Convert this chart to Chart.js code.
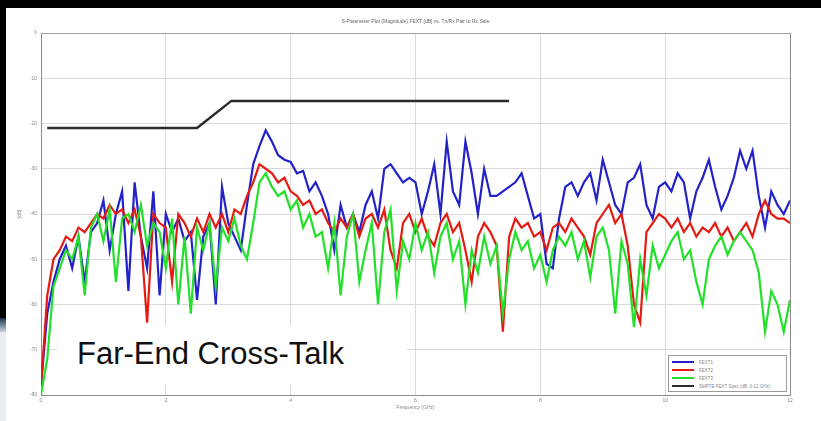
<!DOCTYPE html>
<html lang="en">
  <head>
    <meta charset="utf-8" />
    <title>Far-End Cross-Talk</title>
    <style>
      * {
        padding: 0;
        margin: 0;
        box-sizing: border-box;
      }
      body {
        width: 821px;
        height: 421px;
        background: #000000;
        position: relative;
        overflow: hidden;
        font-family: "Liberation Sans", Arial, sans-serif;
      }
      .sheet {
        position: absolute;
        left: 6px;
        top: 8px;
        right: 0;
        bottom: 0;
        background: #ffffff;
      }
      .edge {
        position: absolute;
        left: 0;
        top: 318px;
        width: 6px;
        height: 14px;
        background: linear-gradient(#1d2f52, #c9d6e6);
      }
      .edge2 {
        position: absolute;
        left: 0;
        top: 332px;
        width: 6px;
        bottom: 0;
        background: #e9edf2;
      }
      .holder {
        position: absolute;
        left: 0;
        top: 0;
        width: 821px;
        height: 421px;
      }
      #legend {
        position: absolute;
        left: 668px;
        top: 355px;
        width: 119px;
        height: 37px;
        border: 1px solid #9a9a9a;
        background: #ffffff;
        padding: 2px 3px;
        font-size: 4.5px;
        color: #888888;
        white-space: nowrap;
        overflow: hidden;
      }
      #legend .row {
        display: flex;
        align-items: center;
        height: 8px;
      }
      #legend .swatch {
        width: 22px;
        height: 2px;
        margin-right: 5px;
        flex: none;
      }
      .caption {
        position: absolute;
        left: 57px;
        top: 325px;
        width: 350px;
        height: 59px;
        background: #ffffff;
        font-size: 31px;
        color: #111111;
        padding: 13px 0 0 20px;
        line-height: 31px;
      }
    </style>
  </head>
  <body>
    <div class="sheet"></div>
    <div class="edge"></div>
    <div class="edge2"></div>
    <div class="holder"><canvas id="chart"></canvas></div>
    <div id="legend"></div>
    <div class="caption">Far-End Cross-Talk</div>

    <script src="https://cdn.jsdelivr.net/npm/chart.js@4.4.1/dist/chart.umd.min.js"></script>
    <script>
      // frequency axis, 0 to 12 GHz every 0.1 GHz
      const freq = [];
      for (let i = 0; i <= 120; i++) freq.push(+(i / 10).toFixed(1));

      const fextBlue = [
        -78, -62, -55, -50, -47, -52, -45, -55, -44, -42,
        -37, -48, -40, -35, -57, -33, -45, -52, -35, -58,
        -40, -44, -41, -46, -44, -59, -45, -42, -60, -34,
        -42, -45, -48, -38, -29, -25, -21.5, -24, -27, -28,
        -28.5, -31, -30.5, -35, -33, -36, -40, -48, -38, -43,
        -40, -44, -38, -35, -41, -30, -29, -31, -33, -32,
        -33, -40, -35, -29, -40, -24, -35, -38, -24, -31,
        -40, -30, -36, -36, -35, -34, -33, -31, -36, -41,
        -40, -51, -52, -41, -34, -33, -36, -33, -31, -37,
        -28, -33, -38, -40, -33, -32, -29, -38, -41, -34,
        -33, -35, -31, -33, -41, -35, -32, -28, -34, -39,
        -36, -32, -26, -30, -26, -36, -43, -35, -38, -40,
        -37
      ];
      const fextRed = [
        -78, -58, -50, -48, -45, -46, -43, -44, -42, -40,
        -41, -38, -40, -39, -42, -39, -45, -64, -40, -42,
        -43, -55, -40, -42, -45, -41, -44, -40, -43, -40,
        -44, -39, -40, -36, -33, -29, -30, -31, -33, -32,
        -35, -36, -38, -37, -40, -39, -42, -44, -41, -43,
        -40, -45, -41, -40, -43, -39, -48, -52, -42, -40,
        -44, -41, -45, -47, -42, -40, -44, -42, -48, -55,
        -45, -42, -44, -47, -66, -45, -41, -43, -42, -45,
        -44, -48, -43, -42, -44, -41, -43, -45, -49, -42,
        -40, -38, -42, -40, -47, -60, -64, -44, -42, -40,
        -41, -43, -41, -44, -42, -45, -43, -44, -42, -45,
        -43, -46, -44, -42, -45, -40, -37, -40, -41, -41,
        -42
      ];
      const fextGreen = [
        -80, -72, -56, -52, -48, -50, -45, -58, -43, -40,
        -46, -39, -55, -41, -40, -44, -38, -47, -42, -44,
        -52, -41, -60, -45, -62, -43, -48, -42, -56, -43,
        -46, -41, -47, -50, -42, -33, -31, -34, -36, -35,
        -39, -37, -43, -40, -45, -44, -52, -42, -58, -45,
        -40, -55, -48, -42, -60, -44, -39, -57, -46, -50,
        -42, -48, -44, -53, -45, -42, -50, -46, -60, -48,
        -53, -45, -51, -47, -62, -50, -44, -48, -46, -52,
        -49, -55, -48, -45, -47, -44, -50, -46, -54, -45,
        -43, -48, -62, -46, -51, -65, -50, -58, -47, -52,
        -49, -46, -44, -50, -48, -55, -60, -50, -47, -45,
        -49, -46, -44, -46, -48, -53, -66, -57, -60, -66,
        -59
      ];
      // spec limit line
      const specFreq = [0.1, 2.5, 3.05, 7.5];
      const specDb = [-21, -21, -15, -15];

      const seriesNames = ["FEXT1", "FEXT2", "FEXT3", "SMPTE FEXT Spec (dB, 0-12 GHz)"];
      const seriesColors = ["#2222c8", "#e41b12", "#22e02a", "#2b2b2b"];

      const xTicks = [0, 2, 4, 6, 8, 10, 12];
      const yTicks = [0, -10, -20, -30, -40, -50, -60, -70, -80];

      const pts = (xs, ys) => xs.map((x, i) => ({ x: x, y: ys[i] }));

      const chart = new Chart(document.getElementById("chart"), {
        type: "line",
        data: {
          datasets: [
            { label: seriesNames[0], data: pts(freq, fextBlue), borderColor: seriesColors[0], order: 3 },
            { label: seriesNames[1], data: pts(freq, fextRed), borderColor: seriesColors[1], order: 2 },
            { label: seriesNames[2], data: pts(freq, fextGreen), borderColor: seriesColors[2], order: 1 },
            { label: seriesNames[3], data: pts(specFreq, specDb), borderColor: seriesColors[3], borderWidth: 2.5, order: 0 },
          ],
        },
        options: {
          responsive: true,
          maintainAspectRatio: false,
          animation: false,
          elements: {
            point: { radius: 0 },
            line: { borderWidth: 2.2, tension: 0 },
          },
          layout: { padding: { left: 0, right: 31, top: 14, bottom: 0 } },
          plugins: {
            legend: { display: false },
            tooltip: { enabled: false },
            title: {
              display: true,
              fullSize: false,
              text: "S-Parameter Plot (Magnitude) FEXT [dB] vs. Tx/Rx Pair to Rx Side",
              color: "#666666",
              font: { size: 5, weight: "normal", lineHeight: 1.2 },
              padding: { top: 5, bottom: 8 },
            },
          },
          scales: {
            x: {
              type: "linear",
              min: 0,
              max: 12,
              afterFit: (s) => { s.height = 26; },
              afterBuildTicks: (s) => { s.ticks = xTicks.map((v) => ({ value: v })); },
              ticks: { color: "#888888", font: { size: 5 }, padding: 3, maxRotation: 0 },
              grid: {
                color: (c) => (c.tick && c.tick.value === 12 ? "#8c8c8c" : "#dadada"),
                drawTicks: false,
              },
              border: { color: "#8c8c8c" },
              title: {
                display: true,
                text: "Frequency (GHz)",
                color: "#888888",
                font: { size: 5 },
                padding: { top: 10, bottom: 10 },
              },
            },
            y: {
              min: -80,
              max: 0,
              afterFit: (s) => { s.width = 41; },
              afterBuildTicks: (s) => { s.ticks = yTicks.map((v) => ({ value: v })); },
              ticks: { color: "#888888", font: { size: 5 }, padding: 4 },
              grid: {
                color: (c) => (c.tick && c.tick.value === 0 ? "#a0a0a0" : "#dadada"),
                drawTicks: false,
              },
              border: { color: "#8c8c8c" },
              title: {
                display: true,
                text: "[dB]",
                color: "#888888",
                font: { size: 5 },
                padding: { top: 17, bottom: 17 },
              },
            },
          },
        },
      });

      // small legend box in the lower right corner
      const legend = document.getElementById("legend");
      seriesNames.forEach((name, i) => {
        const row = document.createElement("div");
        row.className = "row";
        row.innerHTML = `<span class="swatch" style="background:${seriesColors[i]}"></span><span>${name}</span>`;
        legend.appendChild(row);
      });
    </script>
  </body>
</html>
